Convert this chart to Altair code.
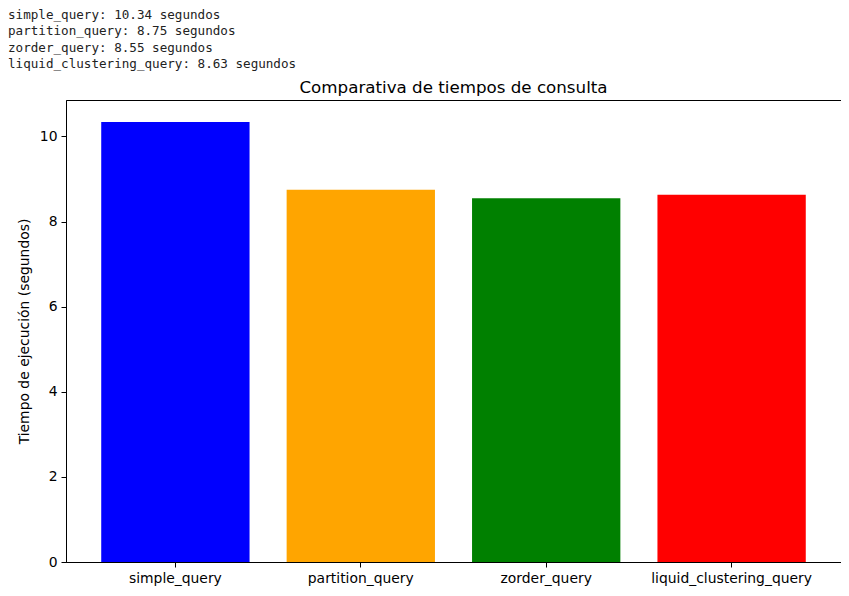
import altair as alt
import pandas as pd

queries = ["simple_query", "partition_query", "zorder_query", "liquid_clustering_query"]
times = [10.34, 8.75, 8.55, 8.63]
bar_colors = ["#0000ff", "#ffa500", "#008000", "#ff0000"]
header_lines = [f"{q}: {t:.2f} segundos" for q, t in zip(queries, times)]
chart_title = "Comparativa de tiempos de consulta"
y_ticks = [0, 2, 4, 6, 8, 10]

W, H = 775, 462
df = pd.DataFrame({"query": queries, "time": times, "color": bar_colors})
ymax = max(times) * 1.05

bars = alt.Chart(df).mark_bar().encode(
    x=alt.X("query:N", sort=queries, title=None,
            scale=alt.Scale(paddingInner=0.2, paddingOuter=0.19),
            axis=alt.Axis(labelAngle=0, labelPadding=4)),
    y=alt.Y("time:Q", title="Tiempo de ejecución (segundos)",
            scale=alt.Scale(domain=[0, ymax], nice=False, zero=True),
            axis=alt.Axis(values=y_ticks, labelPadding=4, titlePadding=8)),
    color=alt.Color("color:N", scale=None),
)

header_df = pd.DataFrame({"text": ["\n".join(header_lines)]})
header = alt.Chart(header_df).mark_text(
    align="left", baseline="alphabetic", font="DejaVu Sans Mono",
    fontSize=12.6, lineBreak="\n", lineHeight=16.5, color="#222222",
).encode(x=alt.value(-58), y=alt.value(-81.5), text="text:N")

title_df = pd.DataFrame({"text": [chart_title]})
title = alt.Chart(title_df).mark_text(
    align="center", baseline="alphabetic", font="DejaVu Sans",
    fontSize=16.7, color="black",
).encode(x=alt.value(W / 2), y=alt.value(-7), text="text:N")

chart = alt.layer(bars, header, title).properties(
    width=W, height=H, autosize="none",
    padding={"left": 58, "top": 92, "right": 0, "bottom": 26},
).configure_view(stroke="black", strokeWidth=1).configure_axis(
    domainColor="black", tickColor="black", tickSize=5, labelColor="black",
    titleColor="black", labelFont="DejaVu Sans", titleFont="DejaVu Sans",
    labelFontSize=13.9, titleFontSize=13.9, titleFontWeight="normal", grid=False,
    domainWidth=1, tickWidth=1,
)

chart.save("out.html", embed_options={"renderer": "svg", "actions": False})
